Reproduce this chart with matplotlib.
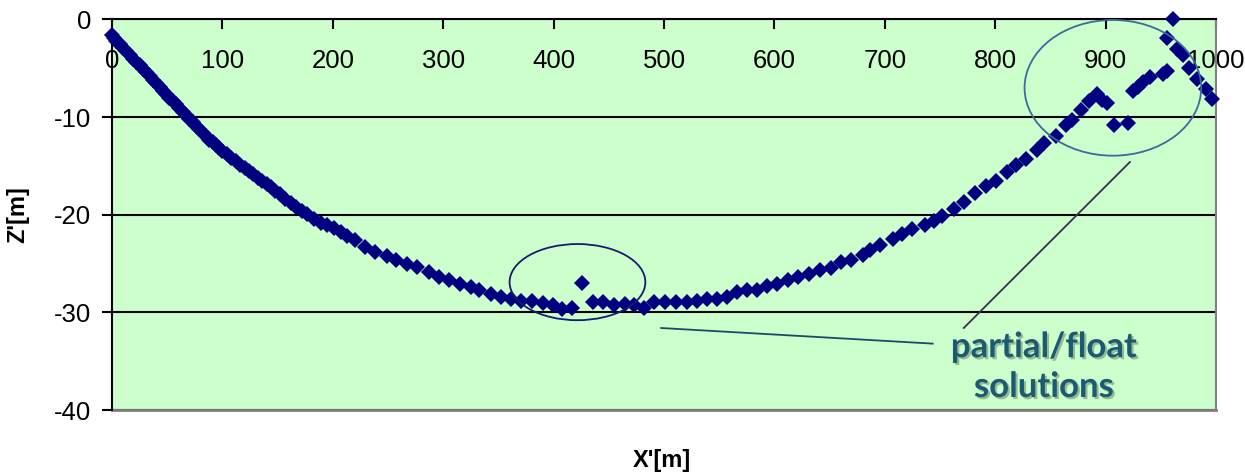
import matplotlib
matplotlib.use("Agg")
import matplotlib.pyplot as plt
from matplotlib.patches import Ellipse
import matplotlib.patheffects as pe

# X'[m] / Z'[m] positions
x_pos = [
    0, 2, 4, 7, 10, 13, 16, 19, 22, 25, 28, 31, 34, 37, 40, 43, 46, 49, 52, 55,
    58, 61, 64, 67, 70, 73, 76, 79, 82, 85, 88, 91, 94, 97, 100,
    104, 108, 112, 116, 120, 124, 128, 132, 136, 140, 144, 148, 152, 157, 162,
    167, 172, 177, 183, 189, 195, 201, 207, 213, 220,
    229, 238, 249, 257, 267, 276, 287, 296, 305, 315, 325, 332, 343, 352, 361,
    370, 380, 390, 399, 408, 417, 426, 436, 445, 455, 465, 473, 482, 491, 501,
    511, 521, 530, 539, 548, 557, 566, 575, 584, 593, 602, 612, 621,
    631, 641, 651, 660, 669, 680, 687, 696, 707, 716, 725, 736, 745, 752, 763,
    772, 782, 792, 801, 811, 819, 828, 838, 844, 855, 864, 870, 878, 885, 892,
    897, 901, 908, 920, 925, 929, 934, 940, 952, 956, 956, 961, 965, 970, 976,
    983, 991, 996,
]
z_pos = [
    -1.6, -1.9, -2.2, -2.5, -2.9, -3.2, -3.6, -4.0, -4.4, -4.7, -5.1, -5.4,
    -5.8, -6.2, -6.5, -6.9, -7.3, -7.6, -8.0, -8.4, -8.7, -9.1, -9.5, -9.8,
    -10.2, -10.5, -10.9, -11.2, -11.6, -11.9, -12.3, -12.6, -12.9, -13.2, -13.5,
    -13.8, -14.2, -14.5, -14.9, -15.2, -15.5, -15.8, -16.2, -16.5, -16.9, -17.2,
    -17.6, -17.9, -18.4, -18.8, -19.2, -19.6, -19.9, -20.4, -20.8, -21.1, -21.4,
    -21.8, -22.2, -22.6,
    -23.3, -23.8, -24.2, -24.6, -25.0, -25.4, -25.9, -26.4, -26.7, -27.1, -27.4,
    -27.7, -28.1, -28.4, -28.6, -28.8, -28.8, -29.0, -29.2, -29.7, -29.6, -27.0,
    -28.9, -28.9, -29.2, -29.1, -29.2, -29.5, -28.9, -28.9, -28.9, -28.9, -28.8,
    -28.6, -28.6, -28.4, -27.9, -27.7, -27.7, -27.3, -27.1, -26.7, -26.4,
    -26.1, -25.7, -25.5, -24.8, -24.6, -24.1, -23.6, -23.1, -22.5, -22.0, -21.5,
    -21.1, -20.6, -20.1, -19.4, -18.7, -17.8, -17.1, -16.5, -15.6, -14.9, -14.3,
    -13.4, -12.7, -11.9, -10.8, -10.3, -9.3, -8.4, -7.6, -8.2, -8.6, -10.8,
    -10.6, -7.3, -6.9, -6.4, -5.9, -5.6, -5.3, -1.9, 0.0, -3.0, -3.6, -5.0,
    -6.1, -7.1, -8.1,
]
x_ticks = [0, 100, 200, 300, 400, 500, 600, 700, 800, 900, 1000]
z_ticks = [0, -10, -20, -30, -40]

plt.rcParams["font.family"] = ["Liberation Sans", "DejaVu Sans"]
plt.rcParams["axes.unicode_minus"] = False

fig = plt.figure(figsize=(12.45, 4.75), dpi=100)
ax = fig.add_axes([0.09, 0.1368, 0.8867, 0.8222])
ax.set_facecolor("#ccffcc")

ax.set_xlim(0, 1000)
ax.set_ylim(-40, 0)
ax.set_xticks(x_ticks)
ax.set_yticks(z_ticks)
ax.tick_params(axis="x", direction="out", length=7, width=1.5, pad=14,
               labelsize=18.5)
ax.tick_params(axis="y", direction="out", length=7, width=1.5, pad=8,
               labelsize=18.5)

# x axis sits on Z'=0 at the top of the plot
ax.spines["bottom"].set_position(("data", 0))
ax.spines["bottom"].set_linewidth(1.5)
ax.spines["left"].set_linewidth(1.5)
ax.spines["top"].set_visible(False)
ax.spines["right"].set_color("#808080")
ax.spines["right"].set_linewidth(1.5)

ax.grid(axis="y", color="black", linewidth=1.5)
ax.set_axisbelow(True)
ax.axhline(-40, color="#808080", linewidth=2, clip_on=False, zorder=1)

ax.plot(x_pos, z_pos, linestyle="none", marker="D", markersize=8.5,
        color="#000080", markeredgewidth=0, clip_on=False, zorder=3)

# annotations
ax.add_patch(Ellipse((421.6, -26.9), 123, 7.8, fill=False,
                     edgecolor="#1a1a6e", linewidth=1.3, zorder=4))
ax.add_patch(Ellipse((906.6, -7.0), 160, 13.9, fill=False,
                     edgecolor="#3c6a9c", linewidth=1.3, zorder=4,
                     clip_on=False))
ax.plot([922, 771.5], [-14.6, -31.6], color="#33334d", linewidth=1.3)
ax.plot([497.4, 743.4], [-31.6, -33.2], color="#1d4a6b", linewidth=1.3)

label = ax.text(844, -35.6, "partial/float\nsolutions", ha="center",
                va="center", fontsize=25, fontweight="bold", color="#1b5a72",
                family=["Lato", "DejaVu Sans"], linespacing=1.3)
label.set_path_effects([pe.withSimplePatchShadow(offset=(1.5, -1.5),
                                                 shadow_rgbFace="#6f8f6f",
                                                 alpha=0.6)])

fig.text(18 / 1245, 0.5 * (1 - 19.5 / 475 + 1 - 410 / 475), "Z'[m]",
         rotation=90, ha="center", va="center", fontsize=17,
         fontweight="bold")
fig.text(662 / 1245, 1 - 460 / 475, "X'[m]", ha="center", va="center",
         fontsize=17, fontweight="bold")

fig.savefig("out.png", dpi=100)
